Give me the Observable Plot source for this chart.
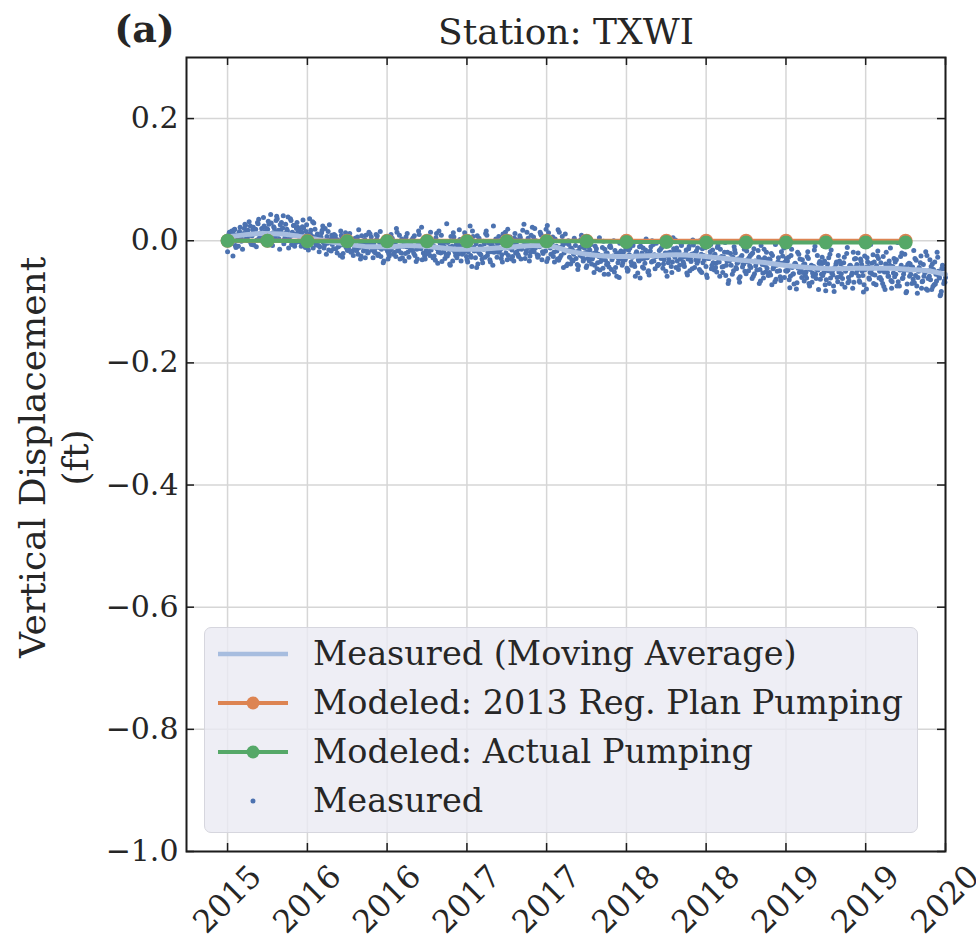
<!DOCTYPE html>
<html>
<head>
<meta charset="utf-8">
<script src="https://cdn.jsdelivr.net/npm/d3@7"></script>
<script src="https://cdn.jsdelivr.net/npm/@observablehq/plot@0.6"></script>
<style>
  html, body { margin: 0; padding: 0; background: #fff; }
  #wrap { position: relative; width: 976px; height: 939px; overflow: hidden; font-family: "DejaVu Serif", serif; color: #262626; }
  #legend { position: absolute; left: 204px; top: 627px; width: 712px; height: 204px; background: rgba(234,234,242,0.8); border: 1px solid #d6d6de; border-radius: 7px; }
  .row { position: absolute; left: 0; height: 40px; }
  .row svg { position: absolute; left: 12px; top: 0; }
  .row span { position: absolute; left: 108px; white-space: nowrap; font-size: 33.5px; line-height: 40px; top: 0; }
</style>
</head>
<body>
<div id="wrap"></div>
<script>
// ---------------- data ----------------
const stationTitle = "Station: TXWI";
const panelLabel = "(a)";
const yLabel = "Vertical Displacement\n(ft)";

const xTicks = [2015, 2015.556, 2016.111, 2016.667, 2017.222, 2017.778, 2018.333, 2018.889, 2019.444, 2020];
const xTickLabels = ["2015", "2016", "2016", "2017", "2017", "2018", "2018", "2019", "2019", "2020"];
const yTicks = [-1.0, -0.8, -0.6, -0.4, -0.2, 0.0, 0.2];
const yTickLabels = ["\u22121.0", "\u22120.8", "\u22120.6", "\u22120.4", "\u22120.2", "0.0", "0.2"];

// Moving average of measured displacement (ft)
const maYears = [2015.000, 2015.125, 2015.250, 2015.375, 2015.500, 2015.625, 2015.750, 2015.875,
  2016.000, 2016.125, 2016.250, 2016.375, 2016.500, 2016.625, 2016.750, 2016.875,
  2017.000, 2017.125, 2017.250, 2017.375, 2017.500, 2017.625, 2017.750, 2017.875,
  2018.000, 2018.125, 2018.250, 2018.375, 2018.500, 2018.625, 2018.750, 2018.875,
  2019.000, 2019.125, 2019.250, 2019.375, 2019.500, 2019.625, 2019.750, 2019.875, 2020.000];
const maValues = [0.006, 0.010, 0.012, 0.011, 0.007, 0.002, -0.003, -0.007,
  -0.010, -0.010, -0.008, -0.009, -0.012, -0.014, -0.014, -0.012,
  -0.010, -0.008, -0.009, -0.017, -0.022, -0.025, -0.026, -0.025,
  -0.024, -0.023, -0.024, -0.027, -0.030, -0.033, -0.036, -0.040,
  -0.043, -0.045, -0.046, -0.045, -0.045, -0.045, -0.047, -0.049, -0.055];

// Modeled displacement (ft)
const modelYears = [2015.000, 2015.278, 2015.556, 2015.833, 2016.111, 2016.389, 2016.667, 2016.944, 2017.222,
  2017.500, 2017.778, 2018.056, 2018.333, 2018.611, 2018.889, 2019.167, 2019.444, 2019.722];
const modelRegPlan = [0.000, 0.000, 0.000, 0.000, 0.000, 0.000, 0.000, 0.000, 0.000,
  0.000, 0.000, 0.000, 0.000, 0.000, 0.000, 0.000, 0.000, 0.000];
const modelActual = [0.000, 0.000, -0.001, -0.001, -0.001, -0.001, -0.001, -0.001, -0.001,
  -0.001, -0.002, -0.002, -0.003, -0.003, -0.003, -0.003, -0.003, -0.003];

// Measured displacement (thousandths of a foot), three interleaved sample phases,
// each evenly spanning 2015.0 -> 2020.0
const measuredStart = 2015.0, measuredEnd = 2020.0;
const measuredA = [
  -18, 14, 3, -25, 19, 8, -9, 22, 1, 12,
  25, 6, 31, -4, 18, 12, -10, 28, 9, 20,
  38, 15, 2, 27, 43, -8, 21, 33, 10, -14,
  30, 41, 5, 19, -12, 36, 14, 25, -3, 22,
  18, -9, 34, 7, 26, -15, 12, 3, 29, -4,
  11, -18, 6, 24, -7, -22, 15, -2, 9, -13,
  8, -20, -3, 16, -27, 2, -11, -16, 12, -6,
  -24, 4, -15, 18, -30, -2, -12, 9, -20, -7,
  6, -28, -13, 2, -22, 15, -8, -33, -1, -17,
  -25, 10, -4, -19, 20, -14, -30, 3, -9, -21,
  12, -27, -6, -16, 8, -34, -2, -12, 22, -20,
  -30, 1, -18, 14, -8, -25, 5, -37, -13, 9,
  -4, -29, 28, -21, -40, -9, 6, -24, -15, 18,
  -33, -7, 13, -26, -18, 24, -42, -11, -28, 8,
  4, -23, -36, -5, 16, -19, -31, -9, 24, -16,
  -27, 7, -14, -35, 1, -20, 19, -8, -30, -3,
  12, -18, -26, 5, -10, 27, -21, -2, -33, 9,
  -14, 20, -5, -24, 14, -31, 3, -17, 25, -8,
  -22, 6, -35, -9, 18, -28, -1, -44, 11, -16,
  -6, -38, -15, 4, -29, -47, -11, 9, -33, -20,
  -41, -10, 2, -30, -52, -19, -36, 5, -24, -45,
  -14, -39, -55, -8, -31, 0, -44, -21, -60, -17,
  -36, 6, -27, -48, -12, -40, -3, -58, -22, -33,
  -9, -43, -29, 3, -51, -18, -35, -6, -46, -25,
  -39, -14, 2, -31, -50, -20, -7, -42, 5, -27,
  -12, -47, -30, -3, -38, -21, -56, -9, -34, 1,
  -44, -17, -33, 0, -52, -24, -11, -60, -29, -6,
  -15, -48, -37, -8, -58, -26, -42, -3, -33, -65,
  -21, -55, -10, -44, -30, -68, -5, -39, -50, -17,
  -49, -24, -62, -13, -41, -33, -70, -8, -53, -28,
  -19, -57, -31, -72, -43, -6, -50, -36, -65, -25,
  -60, -29, -48, -77, -14, -54, -37, -69, -22, -45,
  -31, -66, -51, -18, -74, -40, -58, -9, -47, -80,
  -63, -27, -52, -82, -38, -70, -15, -56, -44, -35,
  -24, -59, -71, -36, -50, -11, -66, -42, -78, -30,
  -53, -20, -68, -39, -84, -47, -28, -61, -6, -55,
  -35, -72, -17, -50, -64, -26, -80, -43, -58, -12,
  -67, -29, -55, -3, -74, -40, -61, -22, -83, -48,
  -38, -70, -16, -57, -86, -44, -25, -66, -51, -79,
  -62, -31, -80, -47, -71, -19, -58, -88, -40, -66
];
const measuredB = [
  5, -2, 16, 11, -8, 0, 13, 7, -14, 20,
  3, 17, 9, -6, 22, 14, 1, 35, 12, 6,
  24, 8, 19, -3, 29, 13, 5, 40, 17, 26,
  12, -5, 27, 16, 3, 33, 8, -9, 20, 14,
  -2, 14, 21, -11, 9, 0, 17, 31, 6, -7,
  4, -10, 13, -3, 20, 7, -15, 2, -6, 10,
  -13, 1, -8, 9, -21, -4, 5, -12, -1, -17,
  -3, -16, 6, -11, -25, -6, 2, -14, -19, 11,
  -15, -4, -20, 8, -11, -26, -7, 4, -13, -30,
  1, -12, -22, -5, 14, -17, -9, -28, -2, 6,
  -19, -3, -11, 5, -24, -14, 16, -8, -31, -1,
  -7, -21, 3, -15, -28, -10, 12, -19, -4, -34,
  -18, -2, -25, -11, 7, -33, -16, -6, -22, 2,
  -9, -20, 4, -31, -13, -24, 16, -17, -5, -38,
  -21, -11, -1, -27, 9, -15, -35, -7, -19, 3,
  -5, -17, -29, 11, -12, -2, -24, 6, -15, -33,
  -20, 1, -13, -30, 17, -7, -16, 4, -25, -11,
  6, -12, -23, -3, 11, -18, -8, 19, -29, -1,
  -8, -26, 3, -17, -32, -11, 7, -20, -4, -38,
  -27, -12, -33, 0, -18, -41, -24, -9, -30, 6,
  -18, -33, -6, -27, -40, -13, -22, -48, -31, -1,
  -32, -20, -43, -11, -28, -51, -23, -36, -4, -30,
  -19, -31, -45, -15, -2, -27, -38, -21, -53, -10,
  -30, -12, -37, -22, -49, -17, 0, -33, -26, -41,
  -16, -29, -45, -8, -24, -36, -19, -52, -13, 1,
  -33, -18, -4, -27, -42, -15, -30, -49, -22, -7,
  -20, -37, -28, -50, -13, -31, -42, -2, -25, -46,
  -36, -22, -51, -30, -14, -43, -27, -57, -19, -33,
  -40, -27, -15, -46, -35, -59, -24, -38, -9, -31,
  -28, -44, -20, -54, -36, -16, -47, -31, -61, -40,
  -45, -30, -56, -24, -41, -63, -35, -49, -18, -38,
  -35, -50, -27, -58, -44, -71, -39, -19, -52, -46,
  -52, -38, -61, -29, -47, -68, -42, -55, -24, -37,
  -40, -57, -33, -64, -49, -22, -53, -74, -45, -60,
  -51, -38, -62, -27, -47, -69, -41, -56, -19, -44,
  -39, -58, -30, -50, -72, -44, -35, -63, -48, -23,
  -56, -41, -29, -60, -47, -75, -38, -52, -33, -65,
  -42, -59, -31, -67, -48, -20, -55, -44, -71, -37,
  -55, -43, -69, -32, -60, -47, -78, -39, -52, -24,
  -49, -64, -38, -72, -55, -27, -61, -83, -46, -68
];
const measuredC = [
  10, -5, 6, 18, -11, 3, 15, -1, 9, 27,
  16, 0, 24, 8, -7, 19, 30, 4, 13, -2,
  6, 20, 32, 11, -1, 23, 14, 36, 3, 18,
  21, 2, 13, 39, 7, -6, 25, 11, 30, 0,
  10, 23, -5, 15, 2, 36, 8, -12, 19, 4,
  -8, 6, 17, -12, 1, -4, 26, -17, 3, 8,
  2, -10, -24, 6, -7, 13, -15, -3, -19, 0,
  -12, 1, -22, -7, 8, -17, -28, -4, 14, -10,
  -6, -18, 10, -24, -3, -14, -36, 1, -9, -21,
  -16, 4, -7, -26, -12, 9, -20, -1, -33, -10,
  -4, -15, 2, -21, -9, -30, 10, -13, -6, -25,
  -16, 5, -24, -9, -1, -32, -13, 16, -20, -6,
  -10, -23, -3, -38, -14, 13, -19, -28, -7, -16,
  -22, -2, -16, -35, -8, -27, 7, -13, -44, -18,
  -9, -30, -14, 12, -24, -4, -18, -40, -11, -2,
  -19, -3, -23, -9, 14, -31, -12, -1, -26, 4,
  -4, -23, 8, -14, -1, -29, 14, -11, -19, 22,
  -18, 0, -27, -10, 9, -21, -5, -34, 13, -12,
  -3, -19, -10, -30, 14, -24, -7, -16, -41, 0,
  -14, -31, -22, -8, -39, -17, 2, -27, -12, -44,
  -29, -15, -38, -21, -9, -46, -26, -34, -11, -55,
  -21, -37, -10, -47, -25, -16, -58, -30, -19, -40,
  -28, -14, -50, -23, -35, -8, -42, -18, -31, -61,
  -20, -45, -15, -28, -56, -10, -33, -23, -4, -39,
  -25, -11, -38, -20, -58, -30, -2, -35, -17, -44,
  -19, -40, -8, -35, -26, -53, -13, -29, -46, -21,
  -31, -12, -47, -22, -36, -8, -56, -29, -18, -40,
  -24, -44, -11, -35, -27, -52, -19, -40, -70, -31,
  -29, -49, -20, -37, -62, -27, -43, -14, -54, -35,
  -41, -22, -58, -33, -48, -27, -66, -39, -14, -51,
  -33, -52, -21, -46, -67, -40, -28, -59, -37, -12,
  -49, -33, -64, -24, -55, -38, -79, -45, -30, -60,
  -39, -57, -26, -70, -43, -53, -15, -62, -48, -34,
  -55, -36, -72, -44, -28, -61, -50, -83, -38, -67,
  -33, -54, -45, -76, -21, -60, -40, -53, -68, -29,
  -48, -66, -33, -57, -25, -79, -42, -52, -37, -70,
  -44, -25, -61, -36, -70, -51, -19, -58, -40, -78,
  -53, -35, -74, -46, -26, -62, -49, -85, -39, -58,
  -44, -63, -29, -74, -50, -36, -67, -58, -18, -81,
  -58, -42, -75, -35, -66, -50, -90, -45, -70, -60
];

const legendLabels = ["Measured (Moving Average)", "Modeled: 2013 Reg. Plan Pumping", "Modeled: Actual Pumping", "Measured"];

// ---------------- tables ----------------
const phases = [measuredA, measuredB, measuredC];
const nPer = measuredA.length, nTot = nPer * phases.length;
const measured = [];
phases.forEach((arr, k) => arr.forEach((v, i) => {
  const j = i * phases.length + k;
  measured.push({t: measuredStart + (measuredEnd - measuredStart) * j / (nTot - 1), v: v / 1000});
}));
const ma = maYears.map((t, i) => ({t, v: maValues[i]}));
const regPlan = modelYears.map((t, i) => ({t, v: modelRegPlan[i]}));
const actual = modelYears.map((t, i) => ({t, v: modelActual[i]}));
const xLabelMap = new Map(xTicks.map((d, i) => [d, xTickLabels[i]]));
const yLabelMap = new Map(yTicks.map((d, i) => [d, yTickLabels[i]]));

const C = {
  dots: "#4C72B0", ma: "#a7bddf", orange: "#DD8452", green: "#55A868",
  grid: "#d6d6d6", spine: "#1c1c1c", text: "#262626"
};
const W = 976, H = 939, mT = 57, mR = 31, mB = 88, mL = 186;
const plotW = W - mL - mR, plotH = H - mT - mB, tickLen = 8;

const chart = Plot.plot({
  width: W, height: H,
  marginTop: mT, marginRight: mR, marginBottom: mB, marginLeft: mL,
  style: {fontFamily: "DejaVu Serif, serif", fontSize: "30px", color: C.text, background: "transparent", overflow: "visible"},
  x: {type: "linear", domain: [2014.714, 2020.0]},
  y: {domain: [-1.0, 0.3]},
  marks: [
    Plot.gridX(xTicks, {stroke: C.grid, strokeOpacity: 1, strokeWidth: 1.5}),
    Plot.gridY(yTicks, {stroke: C.grid, strokeOpacity: 1, strokeWidth: 1.5}),
    Plot.dot(measured, {x: "t", y: "v", r: 2.5, fill: C.dots, stroke: null}),
    Plot.line(ma, {x: "t", y: "v", stroke: C.ma, strokeWidth: 5, curve: "monotone-x"}),
    Plot.line(regPlan, {x: "t", y: "v", stroke: C.orange, strokeWidth: 4}),
    Plot.dot(regPlan, {x: "t", y: "v", r: 7, fill: C.orange, stroke: null}),
    Plot.line(actual, {x: "t", y: "v", stroke: C.green, strokeWidth: 4}),
    Plot.dot(actual, {x: "t", y: "v", r: 7, fill: C.green, stroke: null}),
    // inward ticks on all four sides
    Plot.ruleX(xTicks, {insetTop: plotH - tickLen, stroke: C.spine, strokeWidth: 1.5}),
    Plot.ruleX(xTicks, {insetBottom: plotH - tickLen, stroke: C.spine, strokeWidth: 1.5}),
    Plot.ruleY(yTicks, {insetRight: plotW - tickLen, stroke: C.spine, strokeWidth: 1.5}),
    Plot.ruleY(yTicks, {insetLeft: plotW - tickLen, stroke: C.spine, strokeWidth: 1.5}),
    Plot.frame({stroke: C.spine, strokeWidth: 2}),
    Plot.axisY({ticks: yTicks, tickSize: 0, tickPadding: 8, tickFormat: d => yLabelMap.get(d), label: null, fontSize: 30}),
    Plot.axisX({ticks: xTicks, tickSize: 0, tickRotate: -45, tickPadding: 48, textAnchor: "middle", lineAnchor: "middle", tickFormat: d => xLabelMap.get(d), label: null, fontSize: 31.5}),
    Plot.text([stationTitle], {frameAnchor: "top", dy: -25, lineAnchor: "middle", fontSize: 36, fill: C.text}),
    Plot.text([panelLabel], {frameAnchor: "top-left", dx: -42, dy: -28, textAnchor: "middle", lineAnchor: "middle", fontSize: 38, fontWeight: "bold", fill: C.text}),
    Plot.text([yLabel], {frameAnchor: "left", dx: -134, dy: 3, rotate: -90, textAnchor: "middle", lineAnchor: "middle", lineHeight: 1.19, fontSize: 36, fill: C.text})
  ]
});

const wrap = document.getElementById("wrap");
wrap.appendChild(chart);

// legend (HTML overlay)
const legend = document.createElement("div");
legend.id = "legend";
const swatches = [
  `<svg width="72" height="40"><line x1="1" y1="20" x2="71" y2="20" stroke="${C.ma}" stroke-width="4.5"/></svg>`,
  `<svg width="72" height="40"><line x1="1" y1="20" x2="71" y2="20" stroke="${C.orange}" stroke-width="4"/><circle cx="36" cy="20" r="6.5" fill="${C.orange}"/></svg>`,
  `<svg width="72" height="40"><line x1="1" y1="20" x2="71" y2="20" stroke="${C.green}" stroke-width="4"/><circle cx="36" cy="20" r="6.5" fill="${C.green}"/></svg>`,
  `<svg width="72" height="40"><circle cx="36" cy="20" r="2.5" fill="${C.dots}"/></svg>`
];
const rowCenters = [654, 703, 752, 801];
legendLabels.forEach((lab, i) => {
  const row = document.createElement("div");
  row.className = "row";
  row.style.top = (rowCenters[i] - 627 - 1 - 20) + "px";
  row.style.width = "700px";
  row.innerHTML = swatches[i] + `<span>${lab}</span>`;
  legend.appendChild(row);
});
wrap.appendChild(legend);
</script>
</body>
</html>
